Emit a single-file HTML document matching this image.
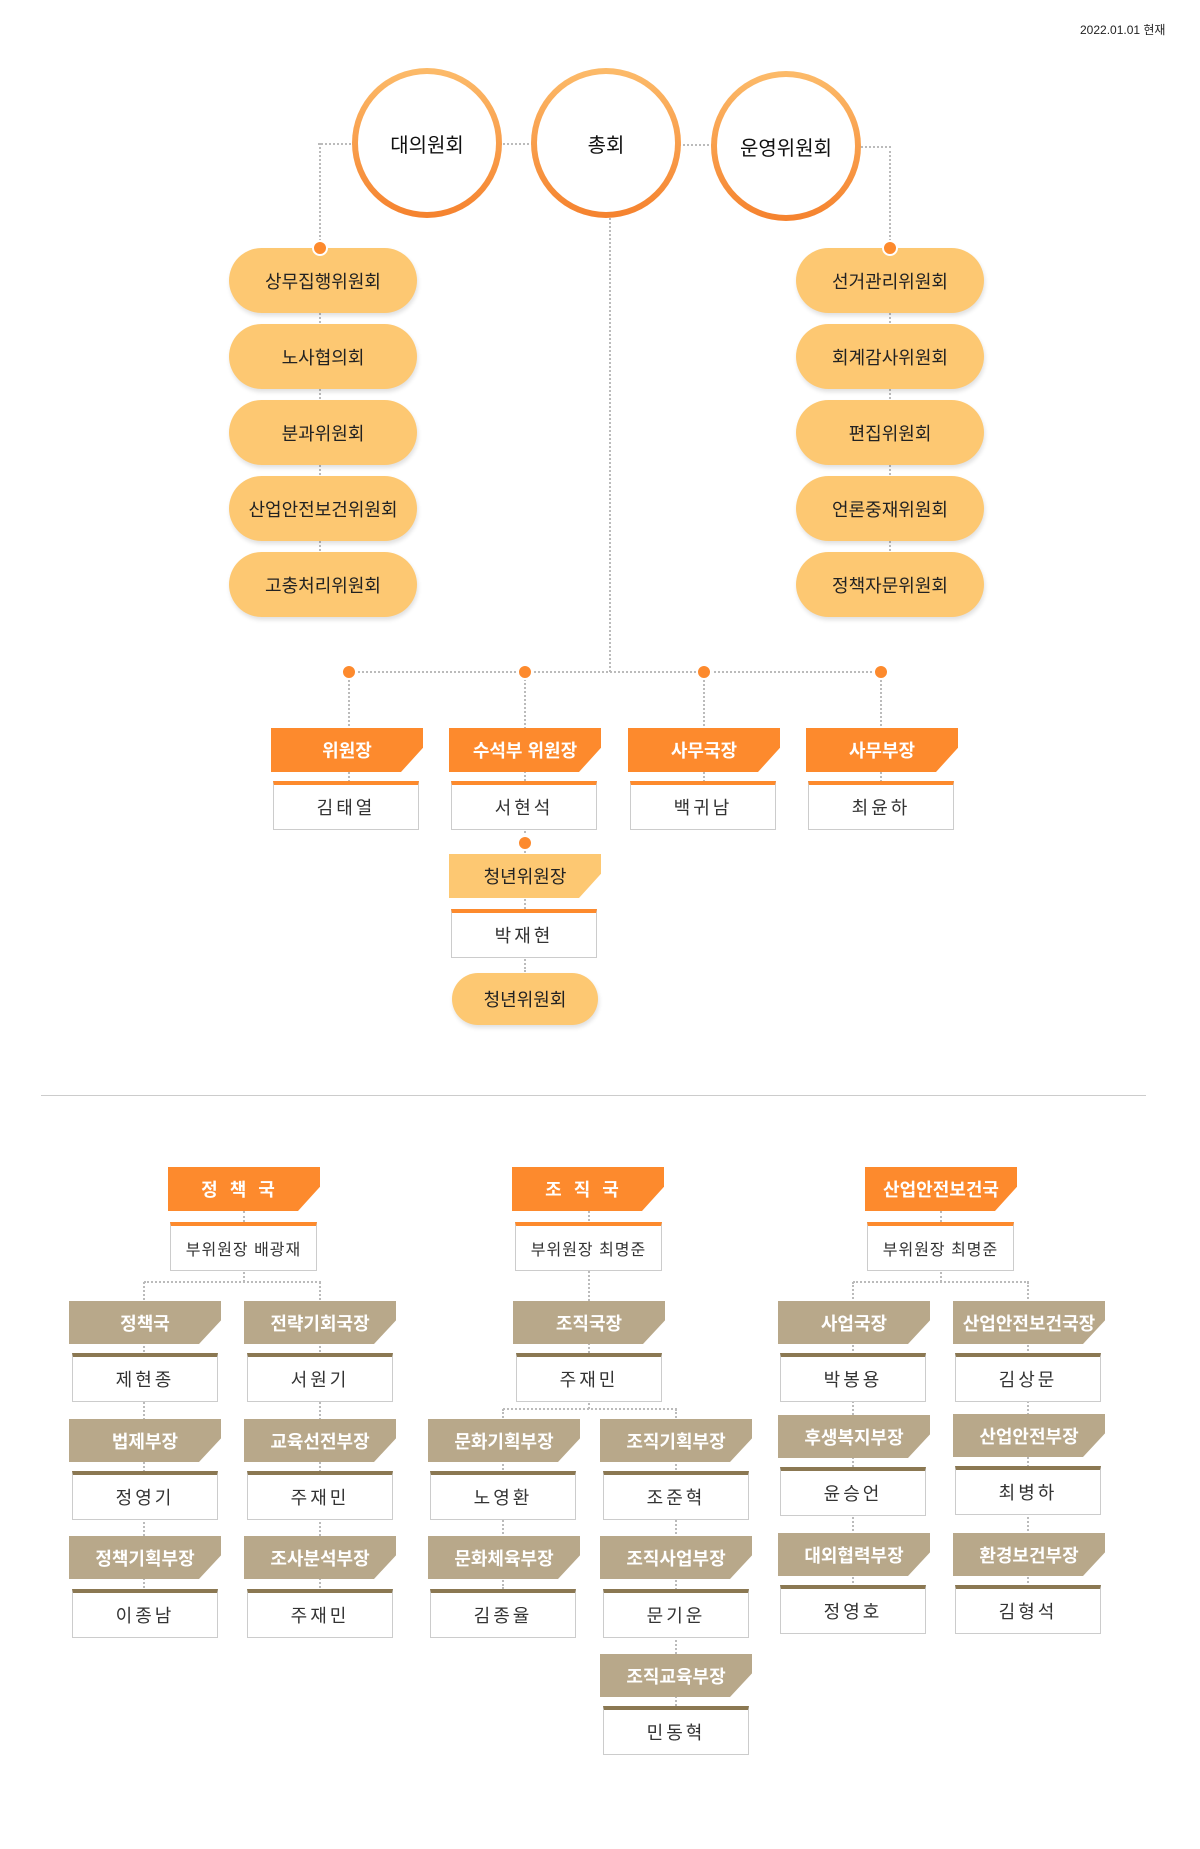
<!DOCTYPE html>
<html><head><meta charset="utf-8">
<style>
*{margin:0;padding:0;box-sizing:border-box}
body{width:1200px;height:1849px;background:#fff;position:relative;font-family:"Liberation Sans","Noto Sans CJK KR",sans-serif;overflow:hidden}
div{position:absolute}
.v{border-left:2px dotted #bbb;width:0}
.hz{border-top:2px dotted #bbb;height:0}
.c{width:150px;height:150px;border-radius:50%;background:linear-gradient(#fcbb6a,#f5822e);}
.c span{left:6px;top:6px;width:138px;height:138px;border-radius:50%;background:#fff;display:flex;align-items:center;justify-content:center;font-size:20px;color:#111;position:absolute}
.p{width:188px;height:65px;border-radius:33px;background:#fdc872;box-shadow:1px 3px 4px rgba(0,0,0,.12);display:flex;align-items:center;justify-content:center;font-size:18px;color:#222}
.d{width:16px;height:16px;border-radius:50%;background:#fd8a2d;border:2px solid #fff;margin:-8px 0 0 -8px}
.h,.hb,.hy{width:152px;height:44px;clip-path:polygon(0 0,100% 0,100% 45%,calc(100% - 22px) 100%,0 100%);display:flex;align-items:center;justify-content:center;font-size:18px;font-weight:bold;color:#fff}
.h{background:#fd8a2d}
.hb{background:#b8a88a;height:43px}
.hy{background:#fdc872;color:#222;font-weight:normal}
.b,.bb{width:146px;height:49px;background:#fff;border:1px solid #ccc;border-top:4px solid #fd8a2d;display:flex;align-items:center;justify-content:center;font-size:18px;color:#333;letter-spacing:3px}
.bb{border-top-color:#8b7852}
.s{font-size:16px;letter-spacing:1px}
</style></head><body>
<div style="left:1080px;top:21px;font-size:12px;color:#222">2022.01.01 현재</div>

<!-- top connectors -->
<div class="hz" style="left:318px;top:143px;width:36px"></div>
<div class="v" style="left:319px;top:143px;height:106px"></div>
<div class="hz" style="left:500px;top:143px;width:33px"></div>
<div class="hz" style="left:679px;top:144px;width:34px"></div>
<div class="hz" style="left:858px;top:146px;width:33px"></div>
<div class="v" style="left:889px;top:146px;height:103px"></div>
<div class="v" style="left:319px;top:249px;height:310px"></div>
<div class="v" style="left:889px;top:249px;height:310px"></div>
<div class="v" style="left:609px;top:215px;height:457px"></div>

<div class="c" style="left:352px;top:68px"><span>대의원회</span></div>
<div class="c" style="left:531px;top:68px"><span>총회</span></div>
<div class="c" style="left:711px;top:71px"><span>운영위원회</span></div>

<div class="p" style="left:229px;top:248px">상무집행위원회</div>
<div class="p" style="left:229px;top:324px">노사협의회</div>
<div class="p" style="left:229px;top:400px">분과위원회</div>
<div class="p" style="left:229px;top:476px">산업안전보건위원회</div>
<div class="p" style="left:229px;top:552px">고충처리위원회</div>
<div class="p" style="left:796px;top:248px">선거관리위원회</div>
<div class="p" style="left:796px;top:324px">회계감사위원회</div>
<div class="p" style="left:796px;top:400px">편집위원회</div>
<div class="p" style="left:796px;top:476px">언론중재위원회</div>
<div class="p" style="left:796px;top:552px">정책자문위원회</div>
<div class="d" style="left:320px;top:248px"></div>
<div class="d" style="left:890px;top:248px"></div>

<div style="left:0;top:-2px;width:0;height:0">
<div class="hz" style="left:349px;top:673px;width:531px"></div>
<div class="v" style="left:348px;top:674px;height:110px"></div>
<div class="v" style="left:524px;top:674px;height:300px"></div>
<div class="v" style="left:703px;top:674px;height:110px"></div>
<div class="v" style="left:880px;top:674px;height:110px"></div>
<div class="d" style="left:349px;top:674px"></div>
<div class="d" style="left:525px;top:674px"></div>
<div class="d" style="left:704px;top:674px"></div>
<div class="d" style="left:881px;top:674px"></div>

<div class="h" style="left:271px;top:730px">위원장</div>
<div class="h" style="left:449px;top:730px">수석부 위원장</div>
<div class="h" style="left:628px;top:730px">사무국장</div>
<div class="h" style="left:806px;top:730px">사무부장</div>
<div class="b" style="left:273px;top:783px">김태열</div>
<div class="b" style="left:451px;top:783px">서현석</div>
<div class="b" style="left:630px;top:783px">백귀남</div>
<div class="b" style="left:808px;top:783px">최윤하</div>
<div class="d" style="left:525px;top:845px"></div>
<div class="hy" style="left:449px;top:856px">청년위원장</div>
<div class="b" style="left:451px;top:911px">박재현</div>
<div class="p" style="left:452px;top:975px;width:146px;height:52px;border-radius:26px">청년위원회</div>
</div>

<div style="left:41px;top:1095px;width:1105px;height:1px;background:#ccc"></div>

<div style="left:0;top:-5px;width:0;height:0">
<div class="v" style="left:243px;top:1216px;height:71px"></div>
<div class="hz" style="left:144px;top:1286px;width:177px"></div>
<div class="v" style="left:143px;top:1287px;height:310px"></div>
<div class="v" style="left:319px;top:1287px;height:310px"></div>
<div class="v" style="left:588px;top:1216px;height:198px"></div>
<div class="hz" style="left:503px;top:1413px;width:174px"></div>
<div class="v" style="left:502px;top:1414px;height:180px"></div>
<div class="v" style="left:675px;top:1414px;height:297px"></div>
<div class="v" style="left:940px;top:1216px;height:71px"></div>
<div class="hz" style="left:853px;top:1286px;width:176px"></div>
<div class="v" style="left:852px;top:1287px;height:305px"></div>
<div class="v" style="left:1027px;top:1287px;height:305px"></div>

<div class="h" style="left:168px;top:1172px;letter-spacing:12px">정책국</div>
<div class="b s" style="left:170px;top:1227px;width:147px">부위원장 배광재</div>
<div class="hb" style="left:69px;top:1306px">정책국</div>
<div class="bb" style="left:72px;top:1358px">제현종</div>
<div class="hb" style="left:69px;top:1424px">법제부장</div>
<div class="bb" style="left:72px;top:1476px">정영기</div>
<div class="hb" style="left:69px;top:1541px">정책기획부장</div>
<div class="bb" style="left:72px;top:1594px">이종남</div>
<div class="hb" style="left:244px;top:1306px">전략기회국장</div>
<div class="bb" style="left:247px;top:1358px">서원기</div>
<div class="hb" style="left:244px;top:1424px">교육선전부장</div>
<div class="bb" style="left:247px;top:1476px">주재민</div>
<div class="hb" style="left:244px;top:1541px">조사분석부장</div>
<div class="bb" style="left:247px;top:1594px">주재민</div>

<div class="h" style="left:512px;top:1172px;letter-spacing:12px">조직국</div>
<div class="b s" style="left:515px;top:1227px;width:147px">부위원장 최명준</div>
<div class="hb" style="left:513px;top:1306px">조직국장</div>
<div class="bb" style="left:516px;top:1358px">주재민</div>
<div class="hb" style="left:428px;top:1424px">문화기획부장</div>
<div class="bb" style="left:430px;top:1476px">노영환</div>
<div class="hb" style="left:428px;top:1541px">문화체육부장</div>
<div class="bb" style="left:430px;top:1594px">김종율</div>
<div class="hb" style="left:600px;top:1424px">조직기획부장</div>
<div class="bb" style="left:603px;top:1476px">조준혁</div>
<div class="hb" style="left:600px;top:1541px">조직사업부장</div>
<div class="bb" style="left:603px;top:1594px">문기운</div>
<div class="hb" style="left:600px;top:1659px">조직교육부장</div>
<div class="bb" style="left:603px;top:1711px">민동혁</div>

<div class="h" style="left:865px;top:1172px">산업안전보건국</div>
<div class="b s" style="left:867px;top:1227px;width:147px">부위원장 최명준</div>
<div class="hb" style="left:778px;top:1306px">사업국장</div>
<div class="bb" style="left:780px;top:1358px">박봉용</div>
<div class="hb" style="left:778px;top:1420px">후생복지부장</div>
<div class="bb" style="left:780px;top:1472px">윤승언</div>
<div class="hb" style="left:778px;top:1538px">대외협력부장</div>
<div class="bb" style="left:780px;top:1590px">정영호</div>
<div class="hb" style="left:953px;top:1306px">산업안전보건국장</div>
<div class="bb" style="left:955px;top:1358px">김상문</div>
<div class="hb" style="left:953px;top:1419px">산업안전부장</div>
<div class="bb" style="left:955px;top:1471px">최병하</div>
<div class="hb" style="left:953px;top:1538px">환경보건부장</div>
<div class="bb" style="left:955px;top:1590px">김형석</div>
</div>
</body></html>
